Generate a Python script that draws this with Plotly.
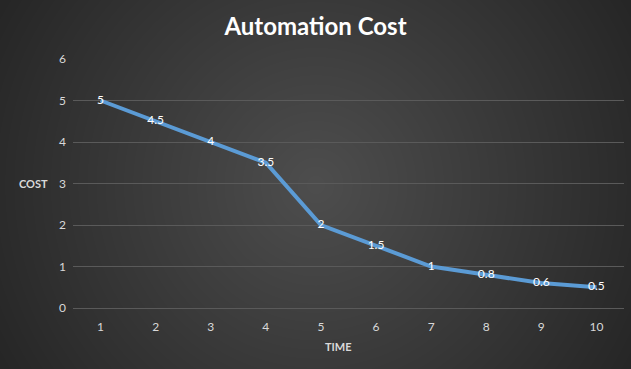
import base64, struct, zlib
import plotly.graph_objects as go

time = [1, 2, 3, 4, 5, 6, 7, 8, 9, 10]
cost = [5, 4.5, 4, 3.5, 2, 1.5, 1, 0.8, 0.6, 0.5]
labels = ["5", "4.5", "4", "3.5", "2", "1.5", "1", "0.8", "0.6", "0.5"]

W, H = 631, 369


def radial_png(w, h, c_in, c_out):
    cx, cy = w / 2, h / 2
    rows = []
    rmax = (cx ** 2 + cy ** 2) ** 0.5
    for y in range(h):
        row = bytearray([0])
        for x in range(w):
            d = (((x - cx) ** 2 + (y - cy) ** 2) ** 0.5) / rmax
            t = min(1.0, d)
            for k in range(3):
                row.append(int(c_in[k] + (c_out[k] - c_in[k]) * t))
        rows.append(bytes(row))
    raw = b"".join(rows)

    def chunk(tag, data):
        c = struct.pack(">I", len(data)) + tag + data
        return c + struct.pack(">I", zlib.crc32(tag + data) & 0xFFFFFFFF)

    png = b"\x89PNG\r\n\x1a\n"
    png += chunk(b"IHDR", struct.pack(">IIBBBBB", w, h, 8, 2, 0, 0, 0))
    png += chunk(b"IDAT", zlib.compress(raw, 9))
    png += chunk(b"IEND", b"")
    return "data:image/png;base64," + base64.b64encode(png).decode()


bg = radial_png(W, H, (78, 78, 78), (38, 38, 38))

font = "Lato, 'Open Sans', sans-serif"
fig = go.Figure()
fig.add_trace(go.Scatter(
    x=time, y=cost, mode="lines+text", text=labels, textposition="middle center",
    textfont=dict(color="#ffffff", size=12, family=font),
    line=dict(color="#5b9bd5", width=4), cliponaxis=False, hoverinfo="skip",
))

ml, mr, mt, mb = 73, 7, 59, 61
pw, ph = W - ml - mr, H - mt - mb
fig.update_layout(
    width=W, height=H,
    margin=dict(l=ml, r=mr, t=mt, b=mb),
    paper_bgcolor="#333333", plot_bgcolor="rgba(0,0,0,0)",
    showlegend=False,
    font=dict(family=font, color="#d9d9d9", size=12),
    title=dict(text="<b>Automation Cost</b>", x=0.5, xanchor="center", y=1 - 27 / H, yanchor="middle",
               font=dict(size=24, color="#ffffff", family=font)),
    images=[dict(source=bg, xref="paper", yref="paper",
                 x=-ml / pw, y=1 + mt / ph,
                 sizex=W / pw, sizey=H / ph,
                 xanchor="left", yanchor="top", sizing="stretch", layer="below")],
    xaxis=dict(range=[0.5, 10.5], tickvals=time, showgrid=False, zeroline=False,
               showline=False, ticks="", ticklabelstandoff=10,
               tickfont=dict(color="#d9d9d9", size=12)),
    yaxis=dict(range=[0, 6], dtick=1, showgrid=True, gridcolor="#5a5a5a", gridwidth=1,
               zeroline=True, zerolinecolor="#5a5a5a", zerolinewidth=1, showline=False,
               ticks="", ticklabelstandoff=6, tickfont=dict(color="#d9d9d9", size=12)),
    annotations=[
        dict(text="<b>COST</b>", x=(33 - ml) / pw, xref="paper", y=3, yref="y", showarrow=False,
             font=dict(size=11, color="#d9d9d9"), xanchor="center", yanchor="middle"),
        dict(text="<b>TIME</b>", x=(338 - ml) / pw, xref="paper", y=-38 / ph, yref="paper", showarrow=False,
             font=dict(size=11, color="#d9d9d9"), xanchor="center", yanchor="middle"),
    ],
)

fig.write_html("out.html", config={"displayModeBar": False},
               post_script="document.body.style.margin='0';document.body.style.background='#262626';")
